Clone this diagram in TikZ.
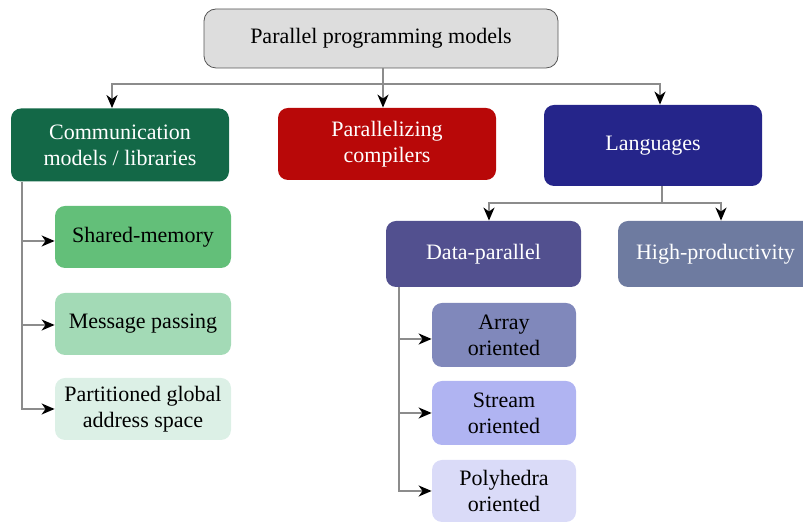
\documentclass[tikz,border=0pt]{standalone}
\usepackage{fontspec}
\setmainfont{Liberation Serif}
\usepackage{tikz}
\usetikzlibrary{positioning, arrows.meta}

\definecolor{rootfill}{HTML}{DDDDDD}
\definecolor{rootline}{HTML}{555555}
\definecolor{linkgray}{HTML}{8C8C8C}
\definecolor{commgreen}{HTML}{136847}
\definecolor{compred}{HTML}{B80808}
\definecolor{langblue}{HTML}{25258A}
\definecolor{shmgreen}{HTML}{63BF79}
\definecolor{msggreen}{HTML}{A3DAB6}
\definecolor{pgasgreen}{HTML}{DCF0E6}
\definecolor{dparblue}{HTML}{52508F}
\definecolor{hprodblue}{HTML}{6E7BA0}
\definecolor{arrayblue}{HTML}{8088BB}
\definecolor{streamblue}{HTML}{B0B4F2}
\definecolor{polyblue}{HTML}{DADBF8}

\begin{document}
\begin{tikzpicture}[x=0.5pt, y=-0.5pt,
        font=\rmfamily\fontsize{11}{13}\selectfont,
        box/.style={rounded corners=5pt, align=center, inner sep=0pt},
        link/.style={draw=linkgray, line width=1pt},
        tip/.style={-{Stealth[length=6.5pt, width=5.5pt, inset=2pt, black]}}]
    \useasboundingbox (0,0) rectangle (803,522);

    % top level
    \node[box, draw=rootline, fill=rootfill, rounded corners=6pt,
        minimum width=177pt, minimum height=29.5pt] (root) at (381,38.5) {Parallel programming models};

    % categories
    \node[box, fill=commgreen, text=white, minimum width=109pt, minimum height=36.5pt]
        (comm) at (120,145) {Communication\\models / libraries};
    \node[box, fill=compred, text=white, minimum width=109pt, minimum height=36pt]
        (comp) at (387,144) {Parallelizing\\compilers};
    \node[box, fill=langblue, text=white, minimum width=109pt, minimum height=40.5pt]
        (lang) at (653,145.5) {Languages};

    % communication models
    \node[box, fill=shmgreen, minimum width=88pt, minimum height=31pt]
        (shm) at (143,237) {Shared-memory};
    \node[box, fill=msggreen, minimum width=88pt, minimum height=31pt]
        (msg) at (143,324) {Message passing};
    \node[box, fill=pgasgreen, minimum width=88pt, minimum height=31pt]
        (pgas) at (143,409) {Partitioned global\\address space};

    % languages
    \node[box, fill=dparblue, text=white, minimum width=97.5pt, minimum height=33pt]
        (dpar) at (483.5,254) {Data-parallel};
    \node[box, fill=hprodblue, text=white, minimum width=97.5pt, minimum height=33pt]
        (hprod) at (715.5,254) {High-productivity};

    % data-parallel
    \node[box, fill=arrayblue, minimum width=72pt, minimum height=32pt]
        (array) at (504,335) {Array\\oriented};
    \node[box, fill=streamblue, minimum width=72pt, minimum height=32pt]
        (stream) at (504,413) {Stream\\oriented};
    \node[box, fill=polyblue, minimum width=72pt, minimum height=31pt]
        (poly) at (504,491) {Polyhedra\\oriented};

    % connectors
    \coordinate (split) at (383,84);
    \draw[link] ([xshift=1pt]root.south) -- (split);
    \draw[link, tip] (split) -| ([xshift=-4pt]comm.north);
    \draw[link, tip] (split) -| ([xshift=-2pt]comp.north);
    \draw[link, tip] (split) -| ([xshift=3.5pt]lang.north);

    \draw[link] ([xshift=4.5pt]lang.south) -- ++(0,17) coordinate (lsplit);
    \draw[link, tip] (lsplit) -| ([xshift=2.75pt]dpar.north);
    \draw[link, tip] (lsplit) -| ([xshift=2.75pt]hprod.north);

    \coordinate (ctrunk) at ([xshift=-49pt]comm.south);
    \draw[link, tip] (ctrunk) |- ([yshift=-2pt]shm.west);
    \draw[link, tip] (ctrunk) |- ([yshift=-0.5pt]msg.west);
    \draw[link, tip] (ctrunk) |- (pgas.west);

    \coordinate (dtrunk) at ([xshift=-42.25pt]dpar.south);
    \draw[link, tip] (dtrunk) |- ([yshift=-2pt]array.west);
    \draw[link, tip] (dtrunk) |- (stream.west);
    \draw[link, tip] (dtrunk) |- (poly.west);
\end{tikzpicture}
\end{document}
